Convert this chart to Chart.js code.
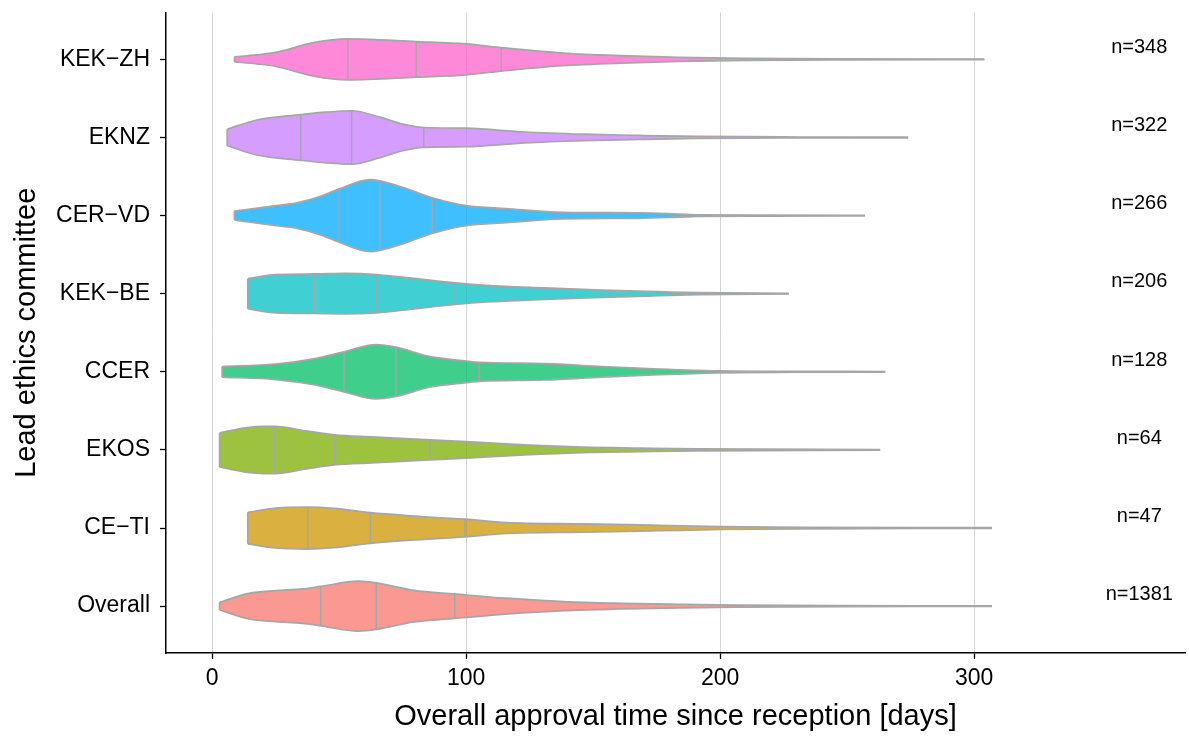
<!DOCTYPE html>
<html>
<head>
<meta charset="utf-8">
<script src="https://cdn.jsdelivr.net/npm/chart.js@4"></script>
<style>
  html, body { margin: 0; padding: 0; background: #fff; }
</style>
</head>
<body>
<canvas id="violinChart" width="1189" height="742"></canvas>
<script>
// committees listed top to bottom as they appear on the chart
const committees = ['KEK\u2212ZH', 'EKNZ', 'CER\u2212VD', 'KEK\u2212BE', 'CCER', 'EKOS', 'CE\u2212TI', 'Overall'];
const counts = [348, 322, 266, 206, 128, 64, 47, 1381];
const colours = ['#FF61CC', '#C77CFF', '#00A9FF', '#00BFC4', '#00BE67', '#7CAE00', '#CD9600', '#F8766D'];

// 25%, 50%, 75% quantiles [days]
const q1 = [53.4, 34.9, 50, 40.2, 51.9, 24.6, 37.6, 42.7];
const medians = [80.3, 54.9, 66, 64.5, 72.3, 48.2, 62.3, 64.6];
const q3 = [113.8, 83.3, 86.6, 95.7, 105, 85.7, 99.5, 95.5];

// density outline: days and half width (in category units)
const densityDays = [
    [8.75, 17.5, 25, 40, 53.4, 80.3, 100, 113.8, 138, 161, 183.5, 210, 250, 304],
    [5.9, 17.5, 34.9, 44.7, 54.9, 66, 75, 83.3, 100, 123, 146, 168, 191, 230, 274],
    [8.75, 25.2, 33, 43, 50, 62.2, 66, 75, 86.6, 100, 115.6, 138, 168, 183.7, 191, 220, 257],
    [14, 25, 40.2, 52.4, 64.5, 79.5, 95.7, 108, 130.7, 153.5, 176, 191, 227],
    [3.9, 25, 40, 51.9, 64.5, 72.3, 85.4, 100, 105, 130.7, 153.4, 176, 198.8, 230, 265],
    [2.9, 13, 20.5, 24.6, 37, 48.2, 62.8, 85.7, 100, 123, 145.8, 168.5, 191, 263],
    [14, 25, 37.6, 47.8, 62.3, 77.9, 99.5, 115.8, 145.8, 176, 200, 231.7, 307],
    [2.9, 14.5, 25, 35.6, 42.7, 57.5, 64.6, 79.4, 95.5, 115.6, 138.3, 161, 183.7, 206, 250, 307]
];
const densityHalfWidth = [
    [0.032, 0.058, 0.090, 0.214, 0.262, 0.228, 0.198, 0.150, 0.081, 0.047, 0.026, 0.013, 0.006, 0.004],
    [0.106, 0.224, 0.292, 0.324, 0.342, 0.260, 0.170, 0.128, 0.119, 0.070, 0.042, 0.026, 0.013, 0.006, 0.004],
    [0.058, 0.128, 0.160, 0.250, 0.342, 0.461, 0.445, 0.362, 0.228, 0.128, 0.090, 0.042, 0.035, 0.019, 0.010, 0.006, 0.004],
    [0.192, 0.246, 0.253, 0.260, 0.246, 0.195, 0.138, 0.106, 0.074, 0.047, 0.026, 0.013, 0.004],
    [0.068, 0.100, 0.166, 0.256, 0.348, 0.316, 0.198, 0.138, 0.122, 0.105, 0.068, 0.036, 0.013, 0.006, 0.004],
    [0.218, 0.284, 0.303, 0.303, 0.243, 0.192, 0.166, 0.128, 0.106, 0.064, 0.035, 0.023, 0.013, 0.004],
    [0.202, 0.256, 0.269, 0.252, 0.196, 0.156, 0.113, 0.070, 0.054, 0.035, 0.019, 0.010, 0.004],
    [0.049, 0.164, 0.198, 0.220, 0.252, 0.320, 0.298, 0.202, 0.156, 0.102, 0.058, 0.036, 0.023, 0.013, 0.006, 0.004]
];

const xTicks = [0, 100, 200, 300];

const fontFamily = '"Liberation Sans", Arial, Helvetica, sans-serif';
const outline = '#A6A6A6';

function withAlpha(hex, a) {
    const r = parseInt(hex.slice(1, 3), 16);
    const g = parseInt(hex.slice(3, 5), 16);
    const b = parseInt(hex.slice(5, 7), 16);
    return 'rgba(' + r + ', ' + g + ', ' + b + ', ' + a + ')';
}

function widthAt(days, widths, x) {
    for (let k = 1; k < days.length; k++) {
        if (x <= days[k]) {
            const t = (x - days[k - 1]) / (days[k] - days[k - 1]);
            return widths[k - 1] + t * (widths[k] - widths[k - 1]);
        }
    }
    return widths[widths.length - 1];
}

const datasets = [];
committees.forEach((name, i) => {
    const yc = committees.length - i;
    const days = densityDays[i];
    const w = densityHalfWidth[i];

    // upper edge
    datasets.push({
        data: days.map((d, k) => ({ x: d, y: yc + w[k] })),
        showLine: true,
        fill: false,
        borderColor: outline,
        borderWidth: 1.7,
        cubicInterpolationMode: 'monotone'
    });
    // lower edge, filled up to the upper edge
    datasets.push({
        data: days.map((d, k) => ({ x: d, y: yc - w[k] })),
        showLine: true,
        fill: '-1',
        backgroundColor: withAlpha(colours[i], 0.75),
        borderColor: outline,
        borderWidth: 1.7,
        cubicInterpolationMode: 'monotone'
    });
    // trimmed left end
    datasets.push({
        data: [{ x: days[0], y: yc - w[0] }, { x: days[0], y: yc + w[0] }],
        showLine: true,
        fill: false,
        borderColor: outline,
        borderWidth: 1.7
    });
    // quantile lines
    [q1[i], medians[i], q3[i]].forEach(q => {
        const h = widthAt(days, w, q);
        datasets.push({
            data: [{ x: q, y: yc - h }, { x: q, y: yc + h }],
            showLine: true,
            fill: false,
            borderColor: outline,
            borderWidth: 1.4
        });
    });
});

const countLabels = {
    id: 'countLabels',
    afterDatasetsDraw(chart) {
        const ctx = chart.ctx;
        const xs = chart.scales.x;
        const ys = chart.scales.y;
        ctx.save();
        ctx.font = '20px ' + fontFamily;
        ctx.fillStyle = '#000';
        ctx.textAlign = 'center';
        ctx.textBaseline = 'middle';
        counts.forEach((n, i) => {
            const yc = committees.length - i;
            ctx.fillText('n=' + n, xs.getPixelForValue(365), ys.getPixelForValue(yc + 0.15));
        });
        ctx.restore();
    }
};

new Chart(document.getElementById('violinChart').getContext('2d'), {
    type: 'scatter',
    data: { datasets: datasets },
    options: {
        responsive: false,
        animation: false,
        events: [],
        layout: { padding: { top: 12.5, right: 4, left: 0, bottom: 0 } },
        elements: {
            point: { radius: 0, hoverRadius: 0 },
            line: { borderCapStyle: 'butt', borderJoinStyle: 'round' }
        },
        plugins: {
            legend: { display: false },
            tooltip: { enabled: false },
            filler: { drawTime: 'beforeDatasetsDraw' }
        },
        scales: {
            x: {
                type: 'linear',
                min: -18.2,
                max: 383,
                afterBuildTicks: s => { s.ticks = xTicks.map(v => ({ value: v })); },
                afterFit: s => { s.height = 89; s.paddingLeft = 0; s.paddingRight = 0; },
                grid: { color: '#D4D4D4', lineWidth: 1, tickColor: '#000', tickLength: 6, tickWidth: 1.3 },
                border: { color: '#000', width: 1.5 },
                ticks: { font: { family: fontFamily, size: 23 }, color: '#000', padding: 6, maxRotation: 0 },
                title: {
                    display: true,
                    text: 'Overall approval time since reception [days]',
                    font: { family: fontFamily, size: 29 },
                    color: '#000',
                    padding: { top: 0, bottom: 8 }
                }
            },
            y: {
                type: 'linear',
                min: 0.4,
                max: 8.6,
                afterBuildTicks: s => { s.ticks = committees.map((c, i) => ({ value: committees.length - i })); },
                afterFit: s => { s.width = 166; s.paddingTop = 0; s.paddingBottom = 0; },
                grid: { drawOnChartArea: false, tickColor: '#000', tickLength: 6, tickWidth: 1.3 },
                border: { color: '#000', width: 1.5 },
                ticks: {
                    font: { family: fontFamily, size: 23 },
                    color: '#000',
                    padding: 10,
                    callback: v => committees[committees.length - v]
                },
                title: {
                    display: true,
                    text: 'Lead ethics committee',
                    font: { family: fontFamily, size: 29 },
                    color: '#000',
                    padding: { top: 10, bottom: 0 }
                }
            }
        }
    },
    plugins: [countLabels]
});
</script>
</body>
</html>
